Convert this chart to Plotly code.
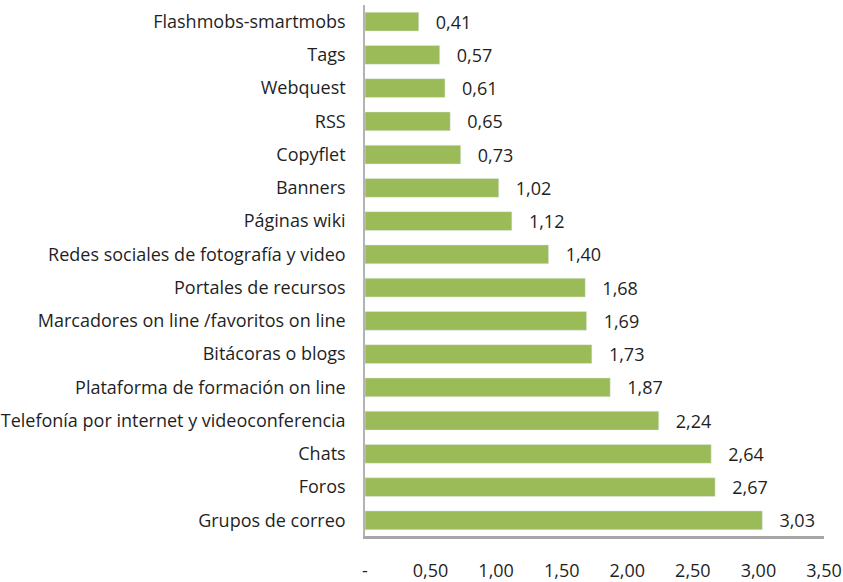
import plotly.graph_objects as go

herramientas = ['Flashmobs-smartmobs', 'Tags', 'Webquest', 'RSS', 'Copyflet', 'Banners',
                'Páginas wiki', 'Redes sociales de fotografía y video', 'Portales de recursos',
                'Marcadores on line /favoritos on line', 'Bitácoras o blogs',
                'Plataforma de formación on line', 'Telefonía por internet y videoconferencia',
                'Chats', 'Foros', 'Grupos de correo']
medias = [0.41, 0.57, 0.61, 0.65, 0.73, 1.02, 1.12, 1.40, 1.68, 1.69, 1.73, 1.87, 2.24, 2.64, 2.67, 3.03]
tick_vals = [0, 0.5, 1.0, 1.5, 2.0, 2.5, 3.0, 3.5]
tick_text = ['-', '0,50', '1,00', '1,50', '2,00', '2,50', '3,00', '3,50']

fig = go.Figure()
fig.add_trace(go.Bar(x=medias, y=herramientas, orientation='h', marker_color='#9bbb59',
                     width=0.57, text=medias, texttemplate='\u00a0\u00a0\u00a0%{x:.2f}',
                     textposition='outside', cliponaxis=False, constraintext='none',
                     textfont=dict(size=18, color='#1f1f1f'), hoverinfo='skip'))
fig.update_layout(width=843, height=582, separators=',.', plot_bgcolor='white',
                  paper_bgcolor='white', showlegend=False,
                  margin=dict(l=365, r=19, t=5, b=45),
                  font=dict(family='Open Sans', size=18, color='#1f1f1f'))
fig.update_xaxes(range=[0, 3.5], tickvals=tick_vals, ticktext=tick_text, showgrid=False,
                 zeroline=False, showline=True, linecolor='#a6a6a6', linewidth=2,
                 ticks='', ticklabelstandoff=16, automargin=False)
fig.update_yaxes(autorange='reversed', showgrid=False, showline=True, linecolor='#b3b3b3',
                 linewidth=1.5, ticks='', ticklabelstandoff=14, automargin=False)
# bottom axis line along the plot area, drawn above everything
fig.add_shape(type='line', xref='paper', yref='paper', x0=0, x1=1, y0=0, y1=0,
              layer='above', line=dict(color='#a6a6a6', width=2))
# no body margin, so the figure sits at the page corner
fig.write_html('out.html', config={'displayModeBar': False},
               post_script="document.body.style.margin='0';")
